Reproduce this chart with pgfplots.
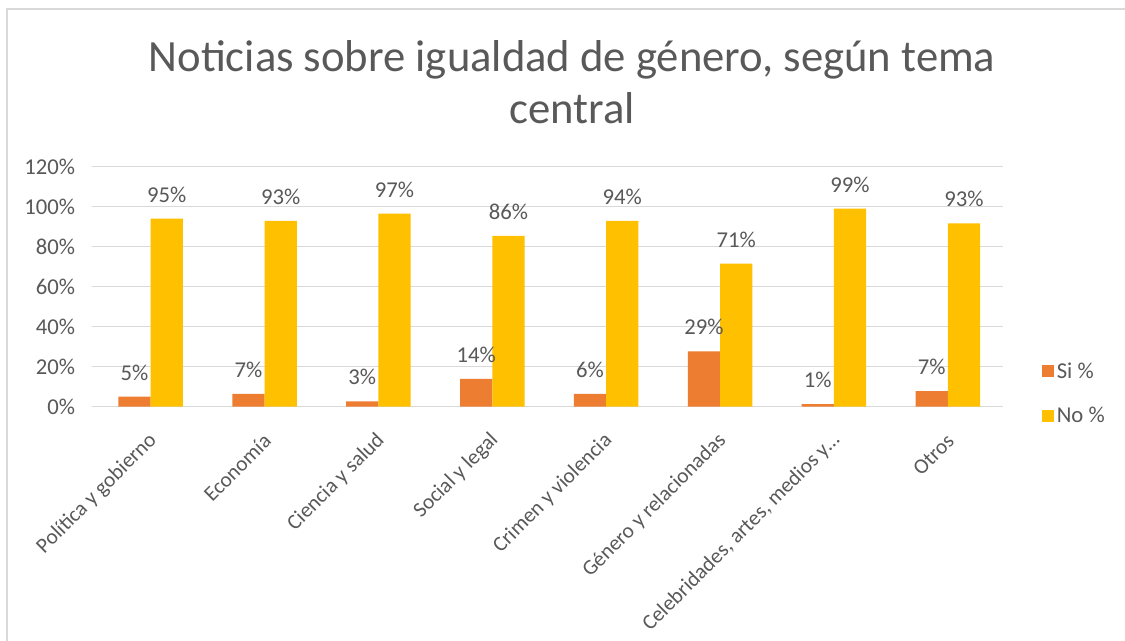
\documentclass[border=0pt]{standalone}
\usepackage{pgfplots}
\pgfplotsset{compat=1.18}
\usepackage{pgfplotstable}
\usepackage{fontspec}
\setmainfont{Carlito}
\definecolor{cSi}{HTML}{ED7D31}
\definecolor{cNo}{HTML}{FFC000}
\definecolor{txt}{HTML}{595959}
\definecolor{grid}{HTML}{D9D9D9}

\pgfplotstableread{
x si silab no nolab
0 5.0 5 94.0 95
1 6.4 7 92.9 93
2 2.7 3 96.5 97
3 13.9 14 85.4 86
4 6.4 6 92.9 94
5 27.7 29 71.5 71
6 1.3 1 99.0 99
7 7.8 7 91.7 93
}\datatable

\begin{document}
\begin{tikzpicture}[x=0.75pt,y=0.75pt]
\useasboundingbox (0,0) rectangle (1125,641);
\fill[white] (0,0) rectangle (1125,641);
\draw[grid, line width=1.5pt] (7,0) -- (7,632) -- (1125,632);
\node[anchor=base, text=txt, font=\fontsize{33.5}{40}\selectfont] at (572,569) {Noticias sobre igualdad de género, según tema};
\node[anchor=base, text=txt, font=\fontsize{33.5}{40}\selectfont] at (572,517) {central};
\begin{axis}[
  at={(68.775pt,175.725pt)}, anchor=south west,
  scale only axis, width=683.25pt, height=180pt,
  ybar=0pt, bar width=24.2pt,
  xmin=-0.518, xmax=7.482, ymin=0, ymax=120,
  ytick={0,20,...,120},
  yticklabel={\pgfmathprintnumber{\tick}\%},
  xtick=data,
  xticklabels={Política y gobierno, Economía, Ciencia y salud, Social y legal, Crimen y violencia, Género y relacionadas, {Celebridades, artes, medios y…}, Otros},
  /pgf/number format/assume math mode=true,
  axis line style={draw=none},
  axis x line*=bottom,
  major tick length=0pt,
  tick style={draw=none},
  xmajorgrids=false,
  ymajorgrids, major y grid style={grid, line width=1.2pt},
  major x grid style={draw=none},
  yticklabel style={text=txt, font=\fontsize{17}{19}\selectfont, xshift=-9pt},
  xticklabel style={text=txt, font=\fontsize{16}{18}\selectfont, xshift=4.5pt, yshift=-20.5pt, rotate=45, anchor=east},
  nodes near coords={\pgfplotspointmeta\%},
  point meta=explicit symbolic,
  nodes near coords style={text=txt, font=\fontsize{17}{19}\selectfont, anchor=base, inner sep=0pt, yshift=12.5pt},
  legend style={at={(1.043,0.055)}, anchor=west, draw=none, fill=none, inner sep=0pt,
    font=\fontsize{17}{19}\selectfont, text=txt, row sep=16pt, legend cell align=left},
  legend image code/.code={\fill[#1,draw=none] (0pt,-4.5pt) rectangle (9pt,4.5pt);},
  clip=false,
]
\addplot[fill=cSi, draw=none] table[x=x, y=si, meta=silab] {\datatable};
\addplot[fill=cNo, draw=none] table[x=x, y=no, meta=nolab] {\datatable};
\legend{Si \%, No \%}
\end{axis}
\end{tikzpicture}
\end{document}
